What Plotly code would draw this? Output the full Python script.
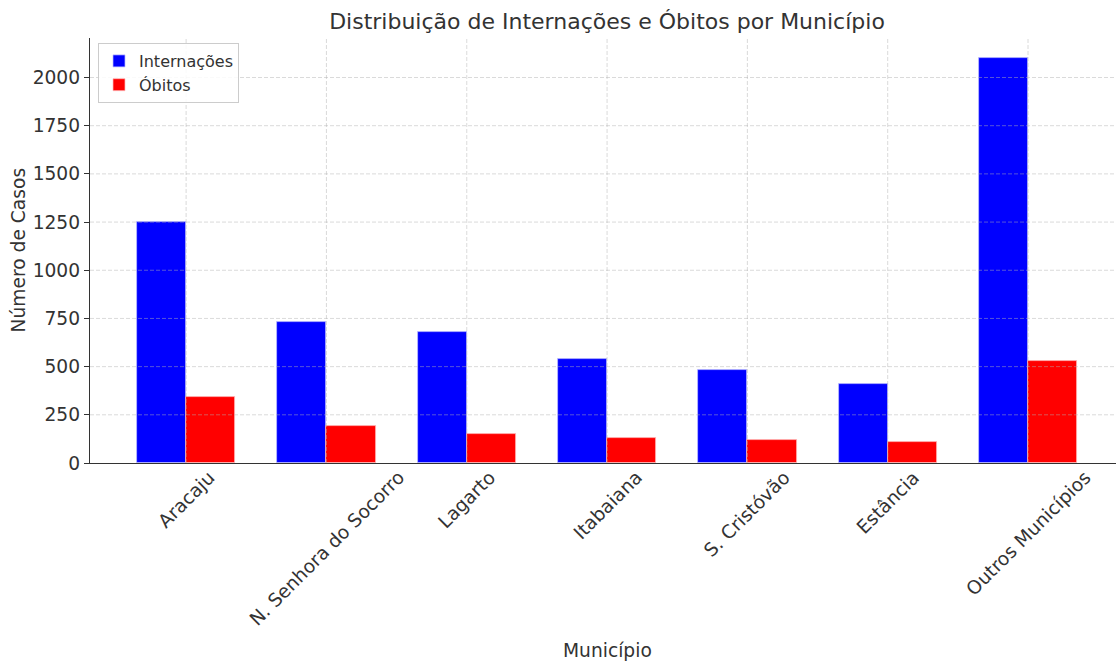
import plotly.graph_objects as go

municipios = ["Aracaju", "N. Senhora do Socorro", "Lagarto", "Itabaiana",
              "S. Cristóvão", "Estância", "Outros Municípios"]
internacoes = [1250, 730, 680, 540, 480, 410, 2100]
obitos = [340, 190, 150, 130, 120, 110, 530]
y_ticks = [0, 250, 500, 750, 1000, 1250, 1500, 1750, 2000]

W, H = 1116, 664
ML, MR, MT = 90, 0, 38
MB = H - 463
PW, PH = W - ML - MR, H - MT - MB  # plot area size
bw = 0.35
xs = list(range(len(municipios)))

TXT = "#333333"
FONT = "DejaVu Sans, sans-serif"
TICK = 18.67

fig = go.Figure()
fig.add_trace(go.Bar(x=[x - bw / 2 for x in xs], y=internacoes, width=bw, name="Internações",
                     marker=dict(color="#0000ff", line=dict(color="rgba(190,190,255,0.9)", width=0.8))))
fig.add_trace(go.Bar(x=[x + bw / 2 for x in xs], y=obitos, width=bw, name="Óbitos",
                     marker=dict(color="#ff0000", line=dict(color="rgba(255,190,190,0.9)", width=0.8))))

grid = dict(color="rgba(176,176,176,0.6)", width=0.8, dash="4px,2px")
for t in y_ticks[1:]:
    fig.add_shape(type="line", xref="paper", yref="y", x0=0, x1=1, y0=t, y1=t,
                  line=grid, layer="above")
for x in xs:
    fig.add_shape(type="line", xref="x", yref="paper", x0=x, x1=x, y0=0, y1=1,
                  line=grid, layer="above")

# x tick labels, rotated and centred on each category (matplotlib style)
for x, name in zip(xs, municipios):
    fig.add_annotation(x=x, y=0, xref="x", yref="paper", text=name, showarrow=False,
                       textangle=-45, xanchor="center", yanchor="top", yshift=-1,
                       font=dict(size=TICK, color=TXT, family=FONT))

# axis titles
fig.add_annotation(x=(607 - ML) / PW, y=(463 - 650) / PH, xref="paper", yref="paper",
                   text="Município", showarrow=False, xanchor="center", yanchor="middle",
                   font=dict(size=TICK, color=TXT, family=FONT))
fig.add_annotation(x=(18 - ML) / PW, y=0.5, xref="paper", yref="paper",
                   text="Número de Casos", showarrow=False, textangle=-90,
                   xanchor="center", yanchor="middle",
                   font=dict(size=TICK, color=TXT, family=FONT))

fig.update_layout(
    width=W, height=H,
    margin=dict(l=ML, r=MR, t=MT, b=MB),
    plot_bgcolor="white", paper_bgcolor="white",
    barmode="overlay", bargap=0,
    font=dict(family=FONT, color=TXT, size=TICK),
    title=dict(text="Distribuição de Internações e Óbitos por Município",
               x=607 / W, xref="container", xanchor="center",
               y=1 - 21 / H, yref="container", yanchor="middle",
               font=dict(size=22, color=TXT)),
    legend=dict(x=8 / PW, y=1 - 5 / PH, xanchor="left", yanchor="top",
                bgcolor="rgba(255,255,255,0.85)", bordercolor="#cccccc", borderwidth=1,
                font=dict(size=16, color=TXT), traceorder="normal"),
    showlegend=True,
)
fig.update_xaxes(
    range=[-0.685, 6.627], tickmode="array", tickvals=xs, showticklabels=False,
    showgrid=False, zeroline=False,
    showline=True, linecolor=TXT, linewidth=1.3, ticks="",
)
fig.update_yaxes(
    range=[0, 2205], tickmode="array", tickvals=y_ticks, ticktext=[str(t) for t in y_ticks],
    showgrid=False, zeroline=False,
    showline=True, linecolor=TXT, linewidth=1.3,
    ticks="outside", ticklen=5, tickcolor=TXT, tickwidth=1.2,
    tickfont=dict(size=TICK, color=TXT),
)
fig.write_html("out.html",
               config={"displayModeBar": False},
               post_script="document.body.style.margin='0';document.body.style.overflow='hidden';")
